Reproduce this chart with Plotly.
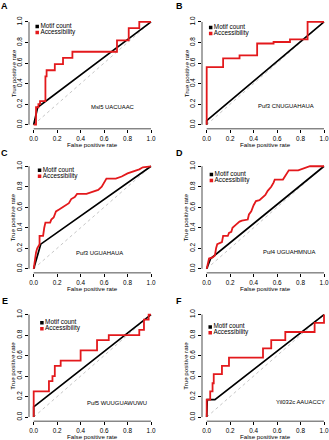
import plotly.graph_objects as go

# ---------------- data ----------------
panel_letters = ["A", "B", "C", "D", "E", "F"]
motif_names = ["Msl5 UACUAAC", "Puf3 CNUGUAHAUA", "Puf3 UGUAHAUA",
               "Puf4 UGUAHMNUA", "Puf5 WUUGUAWUWU", "Yil032c AAUACCY"]
series_names = ["Motif count", "Accessibility"]
tick_vals = [0.0, 0.2, 0.4, 0.6, 0.8, 1.0]
tick_text = ["0.0", "0.2", "0.4", "0.6", "0.8", "1.0"]

# Motif count ROC (FPR, TPR)
motif_A_fpr = [0.0, 0.034, 1.0]
motif_A_tpr = [0.0, 0.17, 1.0]
motif_B_fpr = [0.0, 0.0, 1.0]
motif_B_tpr = [0.0, 0.04, 1.0]
motif_C_fpr = [0.0, 0.06, 1.0]
motif_C_tpr = [0.0, 0.24, 1.0]
motif_D_fpr = [0.0, 0.034, 1.0]
motif_D_tpr = [0.0, 0.10, 1.0]
motif_E_fpr = [0.0, 0.0, 1.0]
motif_E_tpr = [0.0, 0.10, 1.0]
motif_F_fpr = [0.0, 0.005, 0.07, 1.0]
motif_F_tpr = [0.0, 0.17, 0.17, 1.0]

# Accessibility ROC (FPR, TPR)
acc_A_fpr = [0.0, 0.02, 0.02, 0.04, 0.04, 0.054, 0.054, 0.10, 0.10, 0.11, 0.11, 0.18, 0.18, 0.25, 0.25, 0.33, 0.33, 0.71, 0.71, 0.81, 0.81, 0.90, 0.90, 1.0]
acc_A_tpr = [0.0, 0.0, 0.17, 0.17, 0.20, 0.20, 0.23, 0.23, 0.47, 0.47, 0.53, 0.53, 0.59, 0.59, 0.65, 0.65, 0.71, 0.71, 0.82, 0.82, 0.94, 0.94, 1.0, 1.0]
acc_B_fpr = [0.0, 0.0, 0.14, 0.14, 0.28, 0.28, 0.43, 0.43, 0.57, 0.57, 0.71, 0.71, 0.86, 0.86, 1.0]
acc_B_tpr = [0.0, 0.56, 0.56, 0.645, 0.645, 0.675, 0.675, 0.79, 0.79, 0.805, 0.805, 0.83, 0.83, 1.0, 1.0]
acc_C_fpr = [0.0, 0.01, 0.02, 0.03, 0.05, 0.05, 0.08, 0.09, 0.10, 0.14, 0.15, 0.17, 0.19, 0.22, 0.25, 0.28, 0.30, 0.32, 0.35, 0.37, 0.45, 0.50, 0.55, 0.58, 0.60, 0.62, 0.70, 0.75, 0.80, 0.85, 0.90, 0.93, 1.0]
acc_C_tpr = [0.0, 0.10, 0.16, 0.20, 0.24, 0.32, 0.32, 0.40, 0.45, 0.45, 0.48, 0.50, 0.56, 0.58, 0.60, 0.62, 0.64, 0.68, 0.70, 0.73, 0.73, 0.75, 0.77, 0.80, 0.84, 0.88, 0.88, 0.90, 0.93, 0.95, 0.97, 0.99, 1.0]
acc_D_fpr = [0.0, 0.01, 0.02, 0.05, 0.07, 0.08, 0.09, 0.13, 0.14, 0.18, 0.19, 0.21, 0.22, 0.25, 0.28, 0.30, 0.35, 0.36, 0.38, 0.40, 0.42, 0.45, 0.48, 0.50, 0.52, 0.55, 0.57, 0.58, 0.65, 0.68, 0.70, 0.78, 0.83, 0.88, 1.0]
acc_D_tpr = [0.0, 0.06, 0.10, 0.11, 0.13, 0.20, 0.24, 0.26, 0.32, 0.32, 0.35, 0.36, 0.40, 0.43, 0.46, 0.47, 0.48, 0.53, 0.56, 0.62, 0.66, 0.67, 0.70, 0.72, 0.76, 0.80, 0.84, 0.87, 0.87, 0.92, 0.96, 0.96, 0.98, 1.0, 1.0]
acc_E_fpr = [0.0, 0.0, 0.13, 0.13, 0.16, 0.16, 0.18, 0.18, 0.23, 0.23, 0.40, 0.40, 0.54, 0.54, 0.64, 0.64, 0.90, 0.90, 0.94, 0.94, 0.98, 0.98, 1.0]
acc_E_tpr = [0.0, 0.25, 0.25, 0.35, 0.35, 0.40, 0.40, 0.50, 0.50, 0.55, 0.55, 0.65, 0.65, 0.75, 0.75, 0.80, 0.80, 0.85, 0.85, 0.95, 0.95, 1.0, 1.0]
acc_F_fpr = [0.0, 0.0, 0.03, 0.03, 0.05, 0.05, 0.06, 0.06, 0.13, 0.13, 0.19, 0.19, 0.48, 0.48, 0.55, 0.55, 0.67, 0.67, 0.92, 0.92, 1.0, 1.0]
acc_F_tpr = [0.0, 0.17, 0.17, 0.25, 0.25, 0.33, 0.33, 0.42, 0.42, 0.50, 0.50, 0.58, 0.58, 0.67, 0.67, 0.75, 0.75, 0.83, 0.83, 0.92, 0.92, 1.0]

motif_fpr = [motif_A_fpr, motif_B_fpr, motif_C_fpr, motif_D_fpr, motif_E_fpr, motif_F_fpr]
motif_tpr = [motif_A_tpr, motif_B_tpr, motif_C_tpr, motif_D_tpr, motif_E_tpr, motif_F_tpr]
acc_fpr = [acc_A_fpr, acc_B_fpr, acc_C_fpr, acc_D_fpr, acc_E_fpr, acc_F_fpr]
acc_tpr = [acc_A_tpr, acc_B_tpr, acc_C_tpr, acc_D_tpr, acc_E_tpr, acc_F_tpr]

# ---------------- layout geometry ----------------
W, H = 329, 440
# plot area pixel boxes (range -0.04..1.04): left, right, top, bottom
x_boxes = [(29.0, 155.7), (202.0, 328.7)]
y_boxes = [(15.9, 127.4), (160.9, 272.1), (309.9, 421.1)]
label_pos = [(4.5, 4.5), (179, 4.5), (4.5, 151.5), (179, 151.5), (4.5, 300.5), (179, 300.5)]
legend_xy = [(0.03, 0.955), (0.034, 0.945), (0.05, 0.96), (0.04, 0.92), (0.07, 0.92), (0.03, 0.88)]
note_xy = [(0.675, 0.17), (0.68, 0.18), (0.56, 0.15), (0.70, 0.16), (0.706, 0.14), (0.80, 0.15)]

RED = "#e3191c"
FONT = "Liberation Sans, Arial, sans-serif"

fig = go.Figure()
layout = dict(width=W, height=H, margin=dict(l=0, r=0, t=0, b=0),
              paper_bgcolor="white", plot_bgcolor="white", showlegend=False,
              font=dict(family=FONT, size=6, color="black"))
shapes, annotations = [], []

for i in range(6):
    r, c = divmod(i, 2)
    n = i + 1
    xa = "x" if n == 1 else f"x{n}"
    ya = "y" if n == 1 else f"y{n}"
    xk, yk = ("xaxis" if n == 1 else f"xaxis{n}"), ("yaxis" if n == 1 else f"yaxis{n}")
    xl, xr = x_boxes[c]
    yt, yb = y_boxes[r]
    common = dict(range=[-0.04, 1.04], tickvals=tick_vals, ticktext=tick_text,
                  ticks="outside", ticklen=3, tickwidth=0.7, tickcolor="black",
                  showgrid=False, zeroline=False, showline=False,
                  tickfont=dict(size=6.4, family=FONT), fixedrange=True)
    layout[xk] = dict(common, domain=[xl / W, xr / W], anchor=ya)
    layout[yk] = dict(common, domain=[1 - yb / H, 1 - yt / H], anchor=xa, tickangle=-90)

    # chance diagonal
    fig.add_trace(go.Scatter(x=[0, 1], y=[0, 1], mode="lines", xaxis=xa, yaxis=ya,
                             line=dict(color="#b8b8b8", width=0.8, dash="dot"), hoverinfo="skip"))
    fig.add_trace(go.Scatter(x=motif_fpr[i], y=motif_tpr[i], mode="lines", xaxis=xa, yaxis=ya,
                             name=series_names[0], line=dict(color="black", width=1.7)))
    fig.add_trace(go.Scatter(x=acc_fpr[i], y=acc_tpr[i], mode="lines", xaxis=xa, yaxis=ya,
                             name=series_names[1], line=dict(color=RED, width=1.8)))
    # legend keys
    lx, ly = legend_xy[i]
    fig.add_trace(go.Scatter(x=[lx, lx], y=[ly, ly - 0.058], mode="markers+text", xaxis=xa, yaxis=ya,
                             marker=dict(symbol="square", size=3.5, color=["black", RED]),
                             text=series_names, textposition="middle right",
                             textfont=dict(size=6.4, family=FONT, color="black"), hoverinfo="skip"))

    # axis lines (R style, only 0..1)
    shapes.append(dict(type="line", xref=xa, yref=f"{ya} domain", x0=0, x1=1, y0=0, y1=0,
                       line=dict(color="black", width=0.7)))
    shapes.append(dict(type="line", xref=f"{xa} domain", yref=ya, x0=0, x1=0, y0=0, y1=1,
                       line=dict(color="black", width=0.7)))

    # motif annotation
    nx, ny = note_xy[i]
    annotations.append(dict(xref=xa, yref=ya, x=nx, y=ny, text=motif_names[i], showarrow=False,
                            font=dict(size=5.9, family=FONT)))
    # axis titles
    x0p = xl + 0.04 / 1.08 * (xr - xl)
    x1p = xl + 1.04 / 1.08 * (xr - xl)
    y1p = yt + 0.04 / 1.08 * (yb - yt)
    y0p = yt + 1.04 / 1.08 * (yb - yt)
    annotations.append(dict(xref="paper", yref="paper", x=(x0p + x1p) / 2 / W, y=1 - (yb + 15.5) / H,
                            text="False positive rate", showarrow=False,
                            font=dict(size=6.2, family=FONT), xanchor="center", yanchor="middle"))
    annotations.append(dict(xref="paper", yref="paper", x=(xl - 16) / W, y=1 - (y0p + y1p) / 2 / H,
                            text="True positive rate", showarrow=False, textangle=-90,
                            font=dict(size=6.2, family=FONT), xanchor="center", yanchor="middle"))
    # panel letter
    px, py = label_pos[i]
    annotations.append(dict(xref="paper", yref="paper", x=px / W, y=1 - py / H,
                            text=f"<b>{panel_letters[i]}</b>", showarrow=False,
                            font=dict(size=9, family=FONT), xanchor="center", yanchor="middle"))

layout["shapes"] = shapes
layout["annotations"] = annotations
fig.update_layout(**layout)
fig.write_html("out.html", config={"displayModeBar": False},
               post_script="document.body.style.margin='0';document.body.style.padding='0';")
